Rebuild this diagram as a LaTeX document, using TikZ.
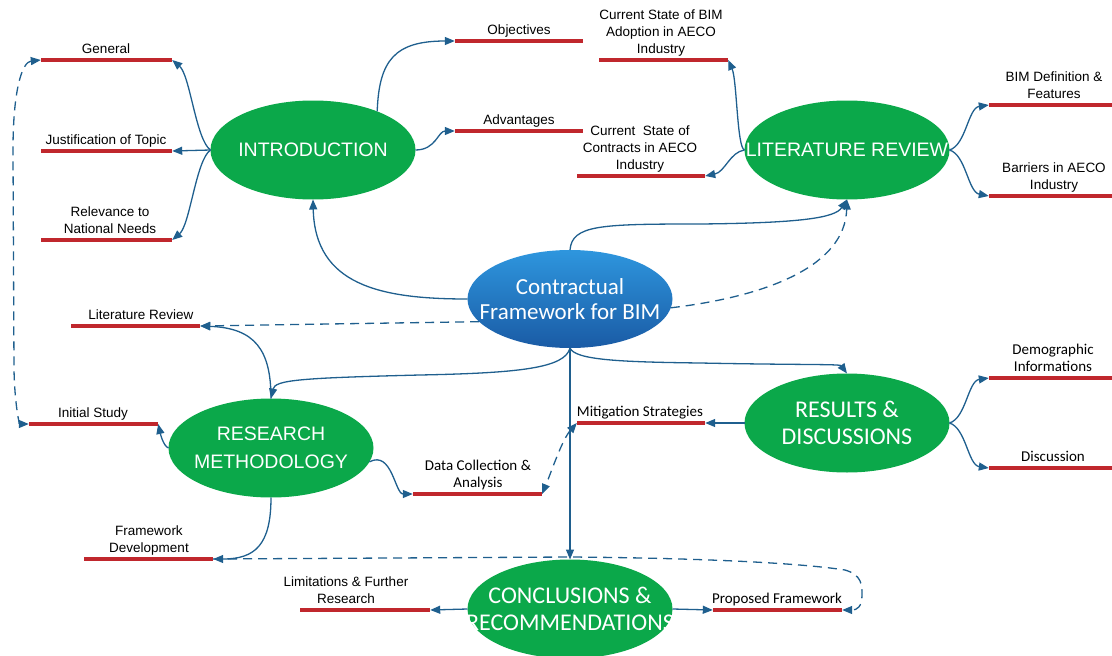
\documentclass[tikz,border=0pt]{standalone}
\usepackage{fontspec}
\setmainfont{Liberation Sans}
\newfontfamily\calfont{Carlito}
\usetikzlibrary{arrows.meta,shapes.geometric}
\definecolor{topicgreen}{HTML}{0BA84A}
\definecolor{barred}{HTML}{C0272D}
\definecolor{linkblue}{HTML}{1F5F8E}
\definecolor{hubtop}{HTML}{2E96DE}
\definecolor{hubbot}{HTML}{1A5BA5}
\begin{document}
\begin{tikzpicture}[x=1pt,y=-1pt,
  >={Triangle[length=10pt,width=8pt]},
  oval/.style={ellipse, inner sep=0pt, outer sep=0pt,
    minimum width=205pt, minimum height=99pt},
  topic/.style={oval, fill=topicgreen},
  armtext/.style={text=white, align=center, font=\fontsize{19.5}{28}\selectfont},
  caltext/.style={text=white, align=center, font=\calfont\fontsize{24}{27}\selectfont},
  redbar/.style={fill=barred, inner sep=0pt, minimum height=4pt, minimum width=#1},
  lbl/.style={anchor=south, inner sep=0pt, text depth=0pt, align=center,
    font=\fontsize{13.5}{17}\selectfont},
  lblc/.style={lbl, font=\calfont\fontsize{15}{17}\selectfont},
  link/.style={draw=linkblue, line width=1.3pt},
  dashlink/.style={link, dash pattern=on 9pt off 6pt}
]
\useasboundingbox (0,0) rectangle (1112,656);

% ---- topic ellipses (fixed size, caption set as a centred label) ----
\node[topic, label={[armtext]center:INTRODUCTION}] (intro) at (313,150) {};
\node[topic, label={[armtext]center:LITERATURE REVIEW}] (lit) at (847,150) {};
\node[topic, label={[armtext]center:RESEARCH\\METHODOLOGY}] (rm) at (271,448) {};
\node[topic, label={[caltext]center:RESULTS \&\\DISCUSSIONS}] (res) at (847,423) {};
\node[topic, label={[caltext]center:CONCLUSIONS \&\\RECOMMENDATIONS}] (concl) at (570,609) {};
\node[oval, top color=hubtop, bottom color=hubbot, minimum height=98pt,
  label={[text=white, align=center, font=\calfont\fontsize{23}{25}\selectfont]center:Contractual\\Framework for BIM}]
  (hub) at (570,299) {};

% ---- red bars ----
\node[redbar=131] (gen)  at (106.5,60) {};
\node[redbar=131] (jus)  at (106.5,151) {};
\node[redbar=131] (rel)  at (106.5,240) {};
\node[redbar=128] (obj)  at (519,41) {};
\node[redbar=128] (adv)  at (519,131) {};
\node[redbar=129] (cur)  at (663.5,60) {};
\node[redbar=128] (con)  at (641,176) {};
\node[redbar=123] (bimd) at (1050.5,105) {};
\node[redbar=123] (barr) at (1050.5,196) {};
\node[redbar=129] (litr) at (135.5,326) {};
\node[redbar=129] (init) at (93.5,424) {};
\node[redbar=129] (fd)   at (148.5,559) {};
\node[redbar=129] (dc)   at (477.5,494) {};
\node[redbar=128] (mit)  at (641,423) {};
\node[redbar=123] (demo) at (1050.5,378) {};
\node[redbar=123] (disc) at (1050.5,468) {};
\node[redbar=130] (lim)  at (365,610) {};
\node[redbar=129] (pf)   at (777.5,610) {};

% ---- bar labels ----
\node[lbl] (genT)  at (106,54) {General};
\node[lbl] (jusT)  at (106,145) {Justification of Topic};
\node[lbl] (relT)  at (110,234) {Relevance to\\National Needs};
\node[lbl] (objT)  at (519,35) {Objectives};
\node[lbl] (advT)  at (519,125) {Advantages};
\node[lbl] (curT)  at (661,54) {Current State of BIM\\Adoption in AECO\\Industry};
\node[lbl] (conT)  at (640,170) {Current~~State of\\Contracts in AECO\\Industry};
\node[lbl] (bimdT) at (1054,99) {BIM Definition \&\\Features};
\node[lbl] (barrT) at (1054,190) {Barriers in AECO\\Industry};
\node[lbl] (litrT) at (141,320) {Literature Review};
\node[lbl] (initT) at (93,418) {Initial Study};
\node[lbl] (fdT)   at (149,553) {Framework\\Development};
\node[lblc] (dcT)  at (478,488) {Data Collection \&\\Analysis};
\node[lblc] (mitT) at (640,417) {Mitigation Strategies};
\node[lblc] (demoT) at (1053,372) {Demographic\\Informations};
\node[lblc] (discT) at (1053,462) {Discussion};
\node[lbl] (limT)  at (346,604) {Limitations \& Further\\Research};
\node[lblc] (pfT)  at (777,604) {Proposed Framework};

% ---- introduction branches ----
\draw[link,->] (intro.west) .. controls (196,140) and (190,75) .. (gen.east);
\draw[link,->] (intro.west) -- (jus.east);
\draw[link,->] (intro.west) .. controls (196,160) and (190,225) .. (rel.east);
\draw[link,->] (intro.31) .. controls (379,60) and (395,41) .. (obj.west);
\draw[link,->] (intro.east) .. controls (436,150) and (438,131) .. (adv.west);

% ---- literature review branches ----
\draw[link,->] (lit.west) .. controls (737,148) and (737,80) .. (cur.east);
\draw[link,->] (lit.west) .. controls (730,152) and (725,172) .. (con.east);
\draw[link,->] (lit.east) .. controls (966,145) and (968,108) .. (bimd.west);
\draw[link,->] (lit.east) .. controls (966,155) and (968,192) .. (barr.west);

% ---- results branches ----
\draw[link,->] (res.west) -- (mit.east);
\draw[link,->] (res.east) .. controls (966,418) and (968,381) .. (demo.west);
\draw[link,->] (res.east) .. controls (966,428) and (968,465) .. (disc.west);

% ---- research methodology branches ----
\draw[link,->] (rm.north) .. controls (271,350) and (255,328) .. (litr.east);
\draw[link,->] (rm.west) .. controls (163,446) and (160,432) .. (init.east);
\draw[link,->] (rm.-8) .. controls (392,450) and (395,494) .. (dc.west);
\draw[dashlink,->] (fd.east) -- (570,557) .. controls (700,558) and (800,563) .. (845,570)
  .. controls (862,575) and (862,585) .. (862,595) .. controls (862,607) and (857,610) .. (pf.east);
\draw[link,->] (rm.south) .. controls (271,545) and (255,559) .. (fd.east);

% ---- conclusions branches ----
\draw[link,->] (concl.west) -- (lim.east);
\draw[link,->] (concl.east) -- (pf.west);

% ---- links from the central hub ----
\draw[link,->] (hub.north) .. controls (572,225) and (600,224) .. (700,224)
  .. controls (800,223) and (835,218) .. (lit.south);
\draw[dashlink,->] (hub.-5) .. controls (770,296) and (845,265) .. (lit.south);
\draw[link,->] (hub.west) .. controls (380,299) and (315,285) .. (intro.south);
\draw[dashlink,->] (hub.194) -- (litr.east);
\draw[link,->] (hub.south) .. controls (565,368) and (520,373) .. (420,375)
  .. controls (300,378) and (275,380) .. (rm.north);
\draw[link,->] (hub.south) .. controls (575,360) and (620,362) .. (700,363)
  .. controls (800,365) and (840,364) .. (res.north);
\draw[link,->] (hub.south) -- (concl.north);

% ---- cross links ----
\draw[dashlink,<->] (gen.west) .. controls (22,62) and (13,90) .. (13,150) -- (14,370)
  .. controls (15,410) and (20,424) .. (init.west);
\draw[dashlink,<->] (mit.west) .. controls (562,440) and (552,470) .. (dc.east);
\end{tikzpicture}
\end{document}
